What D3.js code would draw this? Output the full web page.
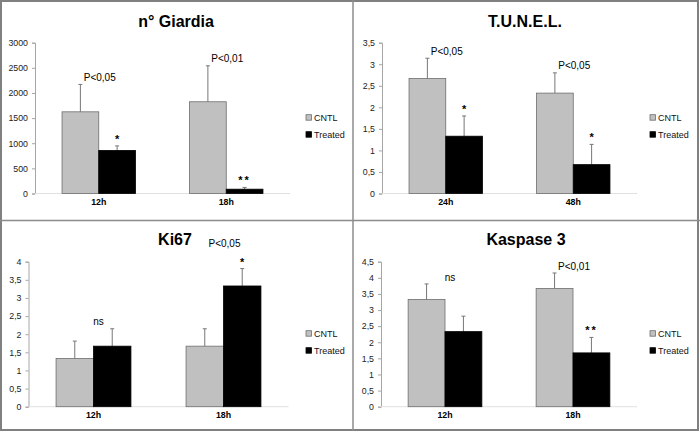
<!DOCTYPE html>
<html><head><meta charset="utf-8">
<script src="https://cdn.jsdelivr.net/npm/d3@7"></script>
<style>
body{margin:0;background:#fff;}
svg{display:block;font-family:"Liberation Sans",Arial,sans-serif;}
</style></head>
<body><svg id="c" width="700" height="433"></svg>
<script>
// ---- data ----
const seriesNames = ["CNTL", "Treated"];

const giardiaTitle = "n° Giardia";
const giardiaCats = ["12h", "18h"];
const giardiaCntl = [1625, 1825];
const giardiaCntlErr = [545, 715];
const giardiaTreated = [857, 86];
const giardiaTreatedErr = [90, 35];
const giardiaTicks = [0, 500, 1000, 1500, 2000, 2500, 3000];
const giardiaSig = ["P<0,05", "P<0,01"];
const giardiaStars = ["*", "**"];

const tunelTitle = "T.U.N.E.L.";
const tunelCats = ["24h", "48h"];
const tunelCntl = [2.67, 2.33];
const tunelCntlErr = [0.47, 0.47];
const tunelTreated = [1.33, 0.67];
const tunelTreatedErr = [0.47, 0.47];
const tunelTicks = [0, 0.5, 1, 1.5, 2, 2.5, 3, 3.5];
const tunelSig = ["P<0,05", "P<0,05"];
const tunelStars = ["*", "*"];

const ki67Title = "Ki67";
const ki67Cats = ["12h", "18h"];
const ki67Cntl = [1.33, 1.67];
const ki67CntlErr = [0.48, 0.48];
const ki67Treated = [1.67, 3.33];
const ki67TreatedErr = [0.48, 0.48];
const ki67Ticks = [0, 0.5, 1, 1.5, 2, 2.5, 3, 3.5, 4];
const ki67Sig = ["ns", "P<0,05"];
const ki67Stars = ["", "*"];

const kaspTitle = "Kaspase 3";
const kaspCats = ["12h", "18h"];
const kaspCntl = [3.33, 3.67];
const kaspCntlErr = [0.48, 0.48];
const kaspTreated = [2.33, 1.67];
const kaspTreatedErr = [0.48, 0.48];
const kaspTicks = [0, 0.5, 1, 1.5, 2, 2.5, 3, 3.5, 4, 4.5];
const kaspSig = ["ns", "P<0,01"];
const kaspStars = ["", "**"];

// ---- layout ----
const panels = [
  {title: giardiaTitle, cats: giardiaCats, cntl: giardiaCntl, cntlErr: giardiaCntlErr, tr: giardiaTreated, trErr: giardiaTreatedErr, ticks: giardiaTicks, sig: giardiaSig, stars: giardiaStars,
   x0: 35, x1: 290, y0: 193.5, y1: 42.7, legX: 306, legY: 117.5, titleX: 176, titleY: 27},
  {title: tunelTitle, cats: tunelCats, cntl: tunelCntl, cntlErr: tunelCntlErr, tr: tunelTreated, trErr: tunelTreatedErr, ticks: tunelTicks, sig: tunelSig, stars: tunelStars,
   x0: 382, x1: 637, y0: 193.5, y1: 42.7, legX: 650, legY: 117.5, titleX: 525, titleY: 27},
  {title: ki67Title, cats: ki67Cats, cntl: ki67Cntl, cntlErr: ki67CntlErr, tr: ki67Treated, trErr: ki67TreatedErr, ticks: ki67Ticks, sig: ki67Sig, stars: ki67Stars,
   x0: 28.5, x1: 288.5, y0: 406.7, y1: 261.7, legX: 306, legY: 333.5, titleX: 175, titleY: 245},
  {title: kaspTitle, cats: kaspCats, cntl: kaspCntl, cntlErr: kaspCntlErr, tr: kaspTreated, trErr: kaspTreatedErr, ticks: kaspTicks, sig: kaspSig, stars: kaspStars,
   x0: 381, x1: 637, y0: 406.7, y1: 261.7, legX: 650, legY: 333.5, titleX: 526, titleY: 245}
];

const svg = d3.select("#c");
const colors = {CNTL: "#c0c0c0", Treated: "#000000"};
const strokes = {CNTL: "#6e6e6e", Treated: "#000000"};

panels.forEach(p => {
  const g = svg.append("g");
  const x = d3.scaleBand().domain(p.cats).range([p.x0, p.x1]);
  const gw = x.bandwidth() * 0.576;
  const xi = d3.scaleBand().domain(seriesNames).range([-gw / 2, gw / 2]);
  const y = d3.scaleLinear().domain([0, d3.max(p.ticks)]).range([p.y0, p.y1]);

  g.append("text").attr("x", p.titleX).attr("y", p.titleY).attr("text-anchor", "middle")
    .attr("font-size", 16).attr("font-weight", "bold").attr("fill", "#000").text(p.title);

  const ya = g.append("g").attr("transform", `translate(${p.x0},0)`)
    .call(d3.axisLeft(y).tickValues(p.ticks).tickSize(3).tickPadding(4)
      .tickFormat(d => String(d).replace(".", ",")));
  ya.select(".domain").attr("stroke", "#a6a6a6");
  ya.selectAll(".tick line").attr("stroke", "#a6a6a6");
  ya.selectAll(".tick text").attr("font-size", 8.8).attr("fill", "#222")
    .attr("font-family", "'Liberation Sans',Arial,sans-serif");

  g.append("line").attr("x1", p.x0).attr("x2", p.x1).attr("y1", y(0)).attr("y2", y(0))
    .attr("stroke", "#e0e0e0").attr("stroke-width", 1);

  const rows = [];
  p.cats.forEach((c, i) => {
    rows.push({cat: c, s: "CNTL", v: p.cntl[i], e: p.cntlErr[i]});
    rows.push({cat: c, s: "Treated", v: p.tr[i], e: p.trErr[i]});
  });

  const cx = d => x(d.cat) + x.bandwidth() / 2 + xi(d.s) + xi.bandwidth() / 2;
  g.selectAll(".eb").data(rows).join("line")
    .attr("x1", cx).attr("x2", cx).attr("y1", d => y(d.v)).attr("y2", d => y(d.v + d.e))
    .attr("stroke", "#777").attr("stroke-width", 1);
  g.selectAll(".cap").data(rows).join("line")
    .attr("x1", d => cx(d) - 2).attr("x2", d => cx(d) + 2)
    .attr("y1", d => y(d.v + d.e)).attr("y2", d => y(d.v + d.e))
    .attr("stroke", "#777").attr("stroke-width", 1);

  g.selectAll(".bar").data(rows).join("rect")
    .attr("x", d => x(d.cat) + x.bandwidth() / 2 + xi(d.s))
    .attr("width", xi.bandwidth())
    .attr("y", d => y(d.v)).attr("height", d => y(0) - y(d.v))
    .attr("fill", d => colors[d.s]).attr("stroke", d => strokes[d.s]).attr("stroke-width", 0.8);

  p.cats.forEach(c => {
    g.append("text").attr("x", x(c) + x.bandwidth() / 2).attr("y", y(0) + 11)
      .attr("text-anchor", "middle").attr("font-size", 8.8).attr("font-weight", "bold")
      .attr("fill", "#000").text(c);
  });

  p.cats.forEach((c, i) => {
    const trRow = rows[i * 2 + 1], cnRow = rows[i * 2];
    let starCenter = null;
    if (p.stars[i]) {
      starCenter = y(trRow.v + trRow.e) - 10;
      g.append("text").attr("x", cx(trRow)).attr("y", starCenter + 7)
        .attr("text-anchor", "middle").attr("font-size", 11).attr("font-weight", "bold")
        .attr("letter-spacing", p.stars[i].length > 1 ? 2 : 0)
        .attr("fill", "#000").text(p.stars[i]);
    }
    let labCenter = Math.min(y(cnRow.v + cnRow.e), y(trRow.v + trRow.e)) - 7;
    if (starCenter !== null) labCenter = Math.min(labCenter, starCenter - 15);
    g.append("text").attr("x", x(c) + x.bandwidth() / 2 + (p.sig[i] === "ns" ? 5 : 1)).attr("y", labCenter + 3.6)
      .attr("text-anchor", "middle").attr("font-size", 10).attr("fill", "#000").text(p.sig[i]);
  });

  seriesNames.forEach((s, k) => {
    const cy = p.legY + k * 17;
    g.append("rect").attr("x", p.legX).attr("y", cy - 2.8).attr("width", 5.5).attr("height", 5.5)
      .attr("fill", colors[s]).attr("stroke", strokes[s]).attr("stroke-width", 0.8);
    g.append("text").attr("x", p.legX + 8).attr("y", cy + 3.2).attr("font-size", 9)
      .attr("fill", "#111").text(s);
  });
});

svg.append("rect").attr("x", 1).attr("y", 1).attr("width", 697).attr("height", 429)
  .attr("fill", "none").attr("stroke", "#808080").attr("stroke-width", 2);
svg.append("line").attr("x1", 353).attr("x2", 353).attr("y1", 0).attr("y2", 431)
  .attr("stroke", "#8c8c8c").attr("stroke-width", 1.5);
svg.append("line").attr("x1", 0).attr("x2", 700).attr("y1", 220.5).attr("y2", 220.5)
  .attr("stroke", "#8c8c8c").attr("stroke-width", 1.5);
</script></body></html>
